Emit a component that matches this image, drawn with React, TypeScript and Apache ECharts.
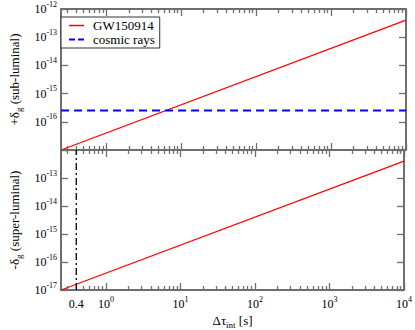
import React, { useEffect, useRef } from 'react';
import * as echarts from 'echarts';

// ---- data ----
const tauRange = [0.25, 10000];
const gwSubLuminal = [1.0e-17, 4.0e-13];
const gwSuperLuminal = [1.0e-17, 4.0e-13];
const cosmicRays = [2.5e-16, 2.5e-16];
const tauMarker = 0.4;
const deltaRange = [1e-17, 1e-12];
const xMajorTicks = [1, 10, 100, 1000, 10000];
const xMinorTicks = [
  0.3, 0.4, 0.5, 0.6, 0.7, 0.8, 0.9,
  2, 3, 4, 5, 6, 7, 8, 9,
  20, 30, 40, 50, 60, 70, 80, 90,
  200, 300, 400, 500, 600, 700, 800, 900,
  2000, 3000, 4000, 5000, 6000, 7000, 8000, 9000,
];
const xTickLabels = [0.4, 1, 10, 100, 1000, 10000];
const yTicks = [1e-17, 1e-16, 1e-15, 1e-14, 1e-13, 1e-12];
const ySubLabels = [1e-16, 1e-15, 1e-14, 1e-13, 1e-12];
const ySuperLabels = [1e-17, 1e-16, 1e-15, 1e-14, 1e-13];

const FONT = 'Liberation Serif';
const FRAME = '#6e6e6e';
const RED = '#ff0000';
const BLUE = '#0000ff';

const richNum = {
  b: { fontFamily: FONT, fontSize: 12, color: '#000', lineHeight: 18, verticalAlign: 'middle' },
  s: { fontFamily: FONT, fontSize: 8, color: '#000', lineHeight: 18, verticalAlign: 'top' },
  n: { fontFamily: FONT, fontSize: 12, color: '#000', lineHeight: 18, verticalAlign: 'middle' },
};

function powLabel(v: number) {
  if (Math.abs(v - tauMarker) < 1e-9) return '{n|0.4}';
  const e = Math.round(Math.log10(v));
  return `{b|10}{s|${e}}`;
}

const G = [
  { left: 48, top: 7, width: 358, height: 143 },
  { left: 48, top: 150, width: 358, height: 144 },
];

function xAx(grid: number, position: string, ticks: number[], len: number, line: boolean, labels?: number[], extra?: any) {
  return {
    type: 'log',
    logBase: 10,
    gridIndex: grid,
    position,
    min: tauRange[0],
    max: tauRange[1],
    axisLine: { show: line, onZero: false, lineStyle: { color: FRAME, width: 2 } },
    axisTick: { show: true, inside: true, length: len, customValues: ticks, lineStyle: { color: FRAME, width: 1.3 } },
    axisLabel: labels
      ? { show: true, customValues: labels, formatter: powLabel, margin: 5, rich: richNum }
      : { show: false },
    splitLine: { show: false },
    minorTick: { show: false },
    ...(extra || {}),
  };
}

function yAx(grid: number, position: string, labels?: number[], extra?: any) {
  return {
    type: 'log',
    logBase: 10,
    gridIndex: grid,
    position,
    min: deltaRange[0],
    max: deltaRange[1],
    axisLine: { show: true, onZero: false, lineStyle: { color: FRAME, width: 2 } },
    axisTick: { show: true, inside: true, length: 7, customValues: yTicks, lineStyle: { color: FRAME, width: 1.3 } },
    axisLabel: labels
      ? { show: true, customValues: labels, formatter: powLabel, margin: 4, rich: richNum }
      : { show: false },
    splitLine: { show: false },
    ...(extra || {}),
  };
}

const nameRich = {
  a: { fontFamily: FONT, fontSize: 13, color: '#000', lineHeight: 18, verticalAlign: 'middle' },
  g: { fontFamily: FONT, fontSize: 9, color: '#000', lineHeight: 18, verticalAlign: 'bottom' },
};

const legendText = {
  fontFamily: FONT,
  fontSize: 13,
  color: '#000',
  rich: { t: { fontFamily: FONT, fontSize: 13, color: '#000', padding: [0, 0, 0, 4] } },
};

export default function App() {
  const ref = useRef<HTMLDivElement>(null);
  useEffect(() => {
    if (!ref.current) return;
    const chart = echarts.init(ref.current, null, { renderer: 'svg' });
    const xAxis = [
      xAx(0, 'bottom', xMajorTicks, 7, true),
      xAx(0, 'bottom', xMinorTicks, 4, false),
      xAx(0, 'top', xMajorTicks, 7, true),
      xAx(0, 'top', xMinorTicks, 4, false),
      xAx(1, 'bottom', xMajorTicks, 7, true, xTickLabels, {
        name: '{a|Δτ}{g|int}{a| [s]}',
        nameLocation: 'middle',
        nameGap: 21,
        nameTextStyle: { rich: nameRich },
      }),
      xAx(1, 'bottom', xMinorTicks, 4, false),
      xAx(1, 'top', xMajorTicks, 7, true),
      xAx(1, 'top', xMinorTicks, 4, false),
    ];
    const yAxis = [
      yAx(0, 'left', ySubLabels, {
        name: '{a|+δ}{g|g}{a| (sub-luminal)}',
        nameLocation: 'middle',
        nameGap: 34,
        nameTextStyle: { rich: nameRich },
      }),
      yAx(0, 'right'),
      yAx(1, 'left', ySuperLabels, {
        name: '{a|-δ}{g|g}{a| (super-luminal)}',
        nameLocation: 'middle',
        nameGap: 34,
        nameTextStyle: { rich: nameRich },
      }),
      yAx(1, 'right'),
    ];
    chart.setOption({
      animation: false,
      backgroundColor: '#fff',
      textStyle: { fontFamily: FONT },
      grid: G,
      xAxis,
      yAxis,
      legend: {
        show: true,
        data: [
          {
            name: 'GW150914',
            itemStyle: { opacity: 0 },
            lineStyle: { color: RED, width: 1.5, type: 'solid' },
          },
          {
            name: 'cosmic rays',
            itemStyle: { opacity: 0 },
            lineStyle: { color: BLUE, width: 2, type: [6, 3] },
          },
        ],
        formatter: (name: string) => `{t|${name}}`,
        orient: 'vertical',
        left: 61,
        top: 17,
        padding: [2, 5, 2, 7],
        itemGap: 1,
        itemWidth: 15,
        itemHeight: 8,
        borderColor: '#333',
        borderWidth: 1,
        backgroundColor: '#fff',
        textStyle: legendText,
      },
      series: [
        {
          name: 'GW150914',
          type: 'line',
          xAxisIndex: 0,
          yAxisIndex: 0,
          symbol: 'none',
          data: tauRange.map((t, i) => [t, gwSubLuminal[i]]),
          lineStyle: { color: RED, width: 1.3 },
          itemStyle: { color: RED },
        },
        {
          name: 'cosmic rays',
          type: 'line',
          xAxisIndex: 0,
          yAxisIndex: 0,
          symbol: 'none',
          data: tauRange.map((t, i) => [t, cosmicRays[i]]),
          lineStyle: { color: BLUE, width: 2, type: [8, 5] },
          itemStyle: { color: BLUE },
          z: 3,
        },
        {
          name: 'GW150914 super',
          type: 'line',
          xAxisIndex: 4,
          yAxisIndex: 2,
          symbol: 'none',
          data: tauRange.map((t, i) => [t, gwSuperLuminal[i]]),
          lineStyle: { color: RED, width: 1.3 },
          itemStyle: { color: RED },
        },
        {
          name: 'marker',
          type: 'line',
          xAxisIndex: 4,
          yAxisIndex: 2,
          symbol: 'none',
          data: deltaRange.map((d) => [tauMarker, d]),
          lineStyle: { color: '#000', width: 1.3, type: [7, 3, 2, 3] },
          itemStyle: { color: '#000' },
        },
      ],
    });
    return () => chart.dispose();
  }, []);
  return <div ref={ref} style={{ position: 'absolute', left: 0, top: 0, width: 415, height: 330 }} />;
}
